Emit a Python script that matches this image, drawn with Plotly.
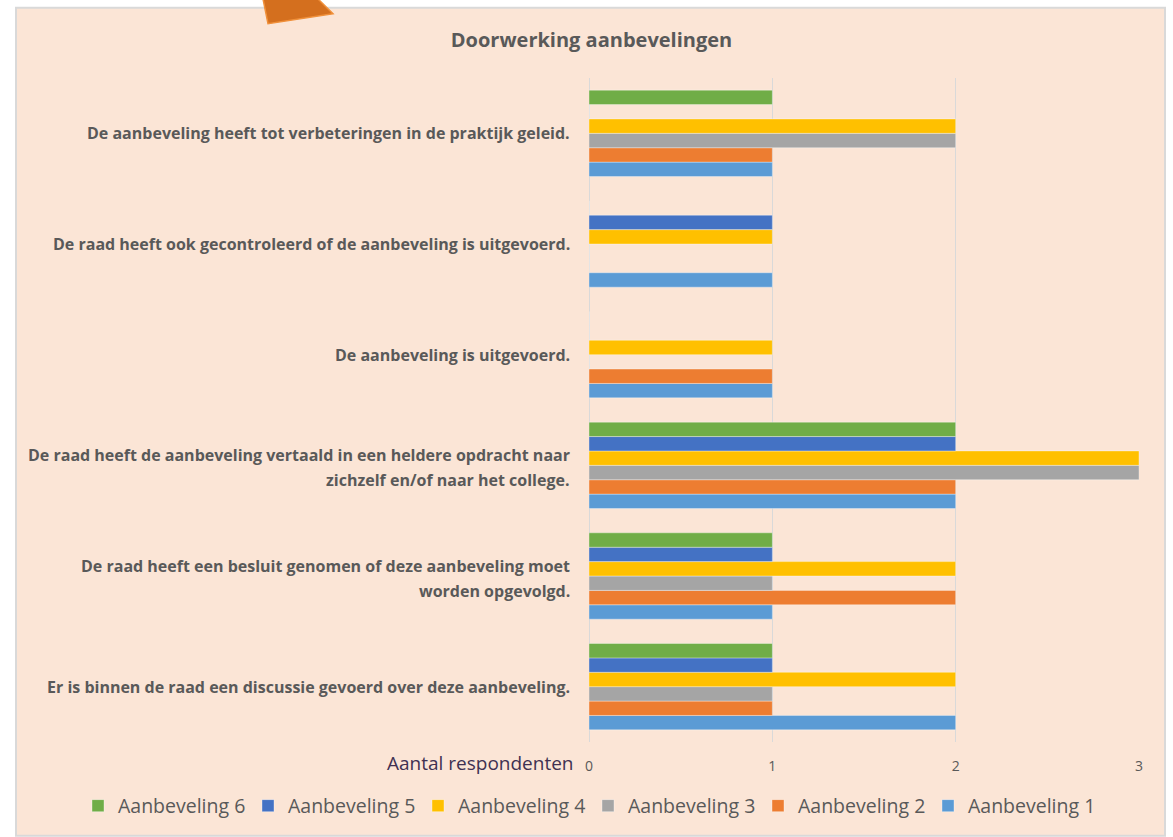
import plotly.graph_objects as go

categories = [
    "Er is binnen de raad een discussie gevoerd over deze aanbeveling.",
    "De raad heeft een besluit genomen of deze aanbeveling moet<br>worden opgevolgd.",
    "De raad heeft de aanbeveling vertaald in een heldere opdracht naar<br>zichzelf en/of naar het college.",
    "De aanbeveling is uitgevoerd.",
    "De raad heeft ook gecontroleerd of de aanbeveling is uitgevoerd.",
    "De aanbeveling heeft tot verbeteringen in de praktijk geleid.",
]
series_names = ["Aanbeveling 1", "Aanbeveling 2", "Aanbeveling 3",
                "Aanbeveling 4", "Aanbeveling 5", "Aanbeveling 6"]
aanbeveling_1 = [2, 1, 2, 1, 1, 1]
aanbeveling_2 = [1, 2, 2, 1, 0, 1]
aanbeveling_3 = [1, 1, 3, 0, 0, 2]
aanbeveling_4 = [2, 2, 3, 1, 1, 2]
aanbeveling_5 = [1, 1, 2, 0, 1, 0]
aanbeveling_6 = [1, 1, 2, 0, 0, 1]
series_values = [aanbeveling_1, aanbeveling_2, aanbeveling_3,
                 aanbeveling_4, aanbeveling_5, aanbeveling_6]
colors = ["#5B9BD5", "#ED7D31", "#A5A5A5", "#FFC000", "#4472C4", "#70AD47"]
x_ticks = [0, 1, 2, 3]
title_text = "Doorwerking aanbevelingen"
x_axis_title = "Aantal respondenten"

FONT = "Open Sans"
GREY = "#595959"
BG = "#FBE5D6"

W, H = 1173, 837
L, R, T, B = 589, 34, 78, 87
pw, ph = W - L - R, H - T - B


def px(x):
    return (x - L) / pw


def py(y):
    return (H - B - y) / ph


fig = go.Figure()
for name, vals, col in zip(series_names, series_values, colors):
    fig.add_trace(go.Bar(
        y=categories, x=vals, name=name, orientation="h",
        marker=dict(color=col, line=dict(color="rgba(255,255,255,0.35)", width=1)),
    ))

shapes = [
    # chart frame
    dict(type="rect", xref="paper", yref="paper", layer="below",
         x0=px(16), x1=px(1165), y0=py(845), y1=py(7),
         fillcolor=BG, line=dict(color="#D9D9D9", width=2)),
    # orange callout arrow peeking in at the top
    dict(type="path", xref="paper", yref="paper", layer="above",
         path=f"M {px(263)},{py(-2)} L {px(268)},{py(23)} L {px(333)},{py(13)} L {px(318)},{py(-2)} Z",
         fillcolor="#D46F1E", line=dict(color="#F0903A", width=1.5)),
]

annotations = []
for cat in categories:
    lines = cat.split("<br>")
    n = len(lines)
    for i, line in enumerate(lines):
        annotations.append(dict(
            x=0, xref="paper", y=cat, yref="y", xanchor="right", yanchor="middle",
            xshift=-17, yshift=((n - 1) / 2 - i) * 25 - 2.5 * (n - 1),
            text=line, showarrow=False,
            font=dict(family=FONT, size=16, color=GREY, weight="bold"),
        ))

annotations.append(dict(
    x=0, xref="paper", y=py(767), yref="paper", xanchor="right", yanchor="middle",
    xshift=-13, yshift=-4, text=x_axis_title, showarrow=False,
    font=dict(family=FONT, size=19, color="#403152"),
))

fig.update_layout(
    width=W, height=H,
    margin=dict(l=L, r=R, t=T, b=B, pad=0),
    paper_bgcolor="white",
    plot_bgcolor="rgba(0,0,0,0)",
    barmode="group",
    bargap=0.22,
    bargroupgap=0,
    title=dict(text=title_text, x=px(591.5), xref="paper", xanchor="center",
               y=1 - 40 / H, yanchor="middle",
               font=dict(family=FONT, size=20, color=GREY, weight="bold")),
    xaxis=dict(range=[0, 3], tickvals=x_ticks, showgrid=True, gridcolor="#D9D9D9",
               gridwidth=1, zeroline=True, zerolinecolor="#D9D9D9", zerolinewidth=1,
               showline=False, ticks="outside", ticklen=11, tickcolor="rgba(0,0,0,0)",
               tickfont=dict(family=FONT, size=14, color=GREY), fixedrange=True),
    yaxis=dict(categoryorder="array", categoryarray=categories, showticklabels=False,
               showgrid=False, zeroline=False, showline=False, fixedrange=True),
    legend=dict(orientation="h", traceorder="reversed", xref="paper",
                x=px(78), xanchor="left", yref="paper",
                y=py(795), yanchor="top",
                font=dict(family=FONT, size=19.5, color=GREY),
                bgcolor="rgba(0,0,0,0)", itemwidth=30, entrywidth=125),
    shapes=shapes,
    annotations=annotations,
    showlegend=True,
)

fig.write_html("out.html", config={"displayModeBar": False},
               post_script="document.body.style.margin='0px';")
